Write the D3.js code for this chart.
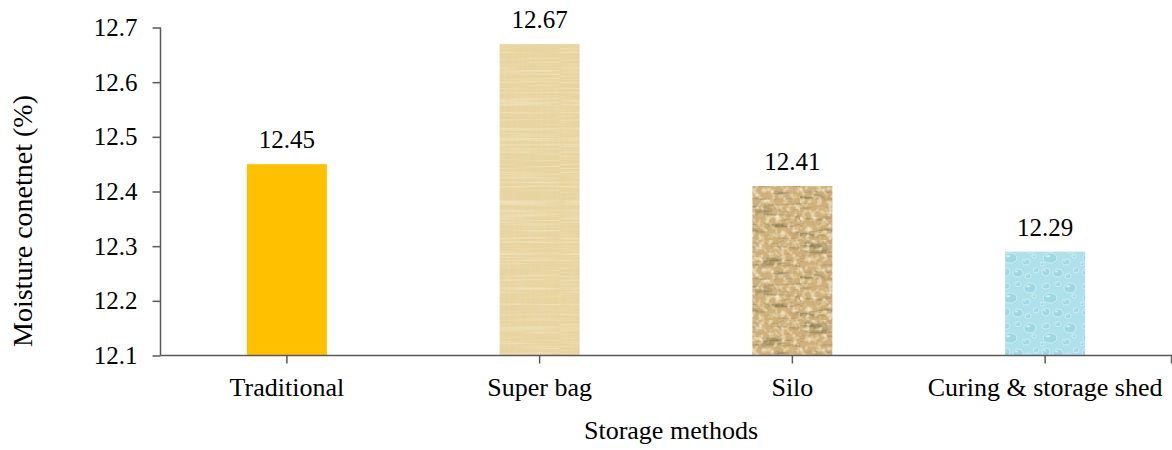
<!DOCTYPE html>
<html>
<head>
<meta charset="utf-8">
<script src="https://cdn.jsdelivr.net/npm/d3@7"></script>
<style>
  html, body { margin: 0; padding: 0; background: #fff; }
  svg text { font-family: "Liberation Serif", "Times New Roman", serif; }
</style>
</head>
<body>
<svg id="chart" width="1172" height="450"></svg>
<script>
// Storage methods and measured moisture content
const categories = ["Traditional", "Super bag", "Silo", "Curing & storage shed"];
const moisture = [12.45, 12.67, 12.41, 12.29];
const yTicks = [12.1, 12.2, 12.3, 12.4, 12.5, 12.6, 12.7];
const fills = ["#ffc000", "url(#papyrus)", "url(#parchment)", "url(#droplets)"];

const svg = d3.select("#chart");
const margin = { left: 160.5, right: 0.5, top: 27.5, bottom: 94.5 };
const W = 1172, H = 450;
const serif = '"Liberation Serif", "Times New Roman", serif';

const x = d3.scaleBand().domain(categories).range([margin.left, W - margin.right]).paddingInner(0).paddingOuter(0);
const y = d3.scaleLinear().domain([12.1, 12.7]).range([H - margin.bottom, margin.top]);
const barW = 80;

// ---- textures ----
const defs = svg.append("defs");
function noiseFilter(id, freq, seed, octaves, matrix) {
  const f = defs.append("filter").attr("id", id).attr("x", 0).attr("y", 0).attr("width", 1).attr("height", 1);
  f.append("feTurbulence").attr("type", "fractalNoise").attr("baseFrequency", freq)
    .attr("numOctaves", octaves).attr("seed", seed);
  f.append("feColorMatrix").attr("values", matrix);
}

// light woven paper
const pap = defs.append("pattern").attr("id", "papyrus").attr("patternUnits", "userSpaceOnUse")
  .attr("width", 80).attr("height", 330);
pap.append("rect").attr("width", 80).attr("height", 330).attr("fill", "#e8d49e");
["fibreV", "fibreH"].forEach(id =>
  pap.append("rect").attr("width", 80).attr("height", 330).attr("filter", `url(#${id})`));
noiseFilter("fibreV", "0.5 0.012", 3, 2, "0 0 0 0 0.80  0 0 0 0 0.68  0 0 0 0 0.44  0 0 0 -1.4 0.8");
noiseFilter("fibreH", "0.012 0.5", 7, 2, "0 0 0 0 0.95  0 0 0 0 0.89  0 0 0 0 0.72  0 0 0 -1.2 0.65");

// darker aged parchment
const par = defs.append("pattern").attr("id", "parchment").attr("patternUnits", "userSpaceOnUse")
  .attr("width", 80).attr("height", 80);
par.append("rect").attr("width", 80).attr("height", 80).attr("fill", "#cfb07a");
["grainDark", "grainLight"].forEach(id =>
  par.append("rect").attr("width", 80).attr("height", 80).attr("filter", `url(#${id})`));
noiseFilter("grainDark", "0.03 0.22", 11, 3, "0 0 0 0 0.30  0 0 0 0 0.23  0 0 0 0 0.10  0 0 0 -3.0 1.5");
noiseFilter("grainLight", "0.18", 5, 2, "0 0 0 0 0.95  0 0 0 0 0.87  0 0 0 0 0.66  0 0 0 2.2 -1.0");

// water droplets
const drop = defs.append("pattern").attr("id", "droplets").attr("patternUnits", "userSpaceOnUse")
  .attr("width", 40).attr("height", 40);
drop.append("rect").attr("width", 40).attr("height", 40).attr("fill", "#afe1eb");
const bubbles = [
  [6, 6, 4, 3], [18, 4, 3, 2.5], [30, 8, 6, 5], [10, 18, 7, 5], [26, 22, 4, 3],
  [36, 30, 3, 2.5], [6, 32, 4, 4], [18, 33, 5, 4], [34, 16, 2, 2], [2, 24, 2, 2], [28, 36, 3, 2.5]
];
bubbles.forEach(([cx, cy, rx, ry]) => {
  drop.append("ellipse").attr("cx", cx).attr("cy", cy).attr("rx", rx).attr("ry", ry)
    .attr("fill", "#9fd8e5").attr("stroke", "#dcf3f8").attr("stroke-width", 0.7);
  drop.append("ellipse").attr("cx", cx - rx * 0.3).attr("cy", cy - ry * 0.35).attr("rx", rx * 0.35).attr("ry", ry * 0.25)
    .attr("fill", "#eefafc").attr("opacity", 0.55);
});

// ---- bars ----
svg.append("g").selectAll("rect").data(categories).join("rect")
  .attr("x", d => x(d) + x.bandwidth() / 2 - barW / 2)
  .attr("y", (d, i) => y(moisture[i]))
  .attr("width", barW)
  .attr("height", (d, i) => y(12.1) - y(moisture[i]))
  .attr("fill", (d, i) => fills[i]);

// value labels
svg.append("g").selectAll("text").data(categories).join("text")
  .attr("x", d => x(d) + x.bandwidth() / 2)
  .attr("y", (d, i) => y(moisture[i]) - 16)
  .attr("text-anchor", "middle")
  .style("font-family", serif)
  .style("font-size", "25px")
  .attr("fill", "#000")
  .text((d, i) => moisture[i].toFixed(2));

// ---- axes ----
const yAxis = svg.append("g").attr("transform", `translate(${margin.left},0)`)
  .call(d3.axisLeft(y).tickValues(yTicks).tickFormat(d3.format(".1f")).tickSize(8).tickPadding(15));
yAxis.select(".domain").attr("stroke", "#595959").attr("stroke-width", 1.5).attr("d", `M0,${y(12.7)}V${y(12.1)}`);
yAxis.selectAll(".tick line").attr("stroke", "#595959").attr("stroke-width", 1.5);
yAxis.selectAll(".tick text").style("font-size", "25px").style("font-family", serif).attr("fill", "#000");

const xAxis = svg.append("g").attr("transform", `translate(0,${y(12.1)})`)
  .call(d3.axisBottom(x).tickSize(8).tickPadding(22));
xAxis.select(".domain").attr("stroke", "#595959").attr("stroke-width", 1.5).attr("d", `M${margin.left},0H${W - margin.right}V8`);
xAxis.selectAll(".tick line").attr("stroke", "#595959").attr("stroke-width", 1.5);
xAxis.selectAll(".tick text").attr("y", 22).attr("dy", "0.71em")
  .style("font-size", "26px").style("font-family", serif).attr("fill", "#000");

// axis titles
svg.append("text").attr("x", 671).attr("y", 439).attr("text-anchor", "middle")
  .style("font-family", serif).style("font-size", "26px").text("Storage methods");
svg.append("text").attr("transform", "translate(32,221) rotate(-90)").attr("text-anchor", "middle")
  .style("font-family", serif).style("font-size", "28px").text("Moisture conetnet (%)");
</script>
</body>
</html>
